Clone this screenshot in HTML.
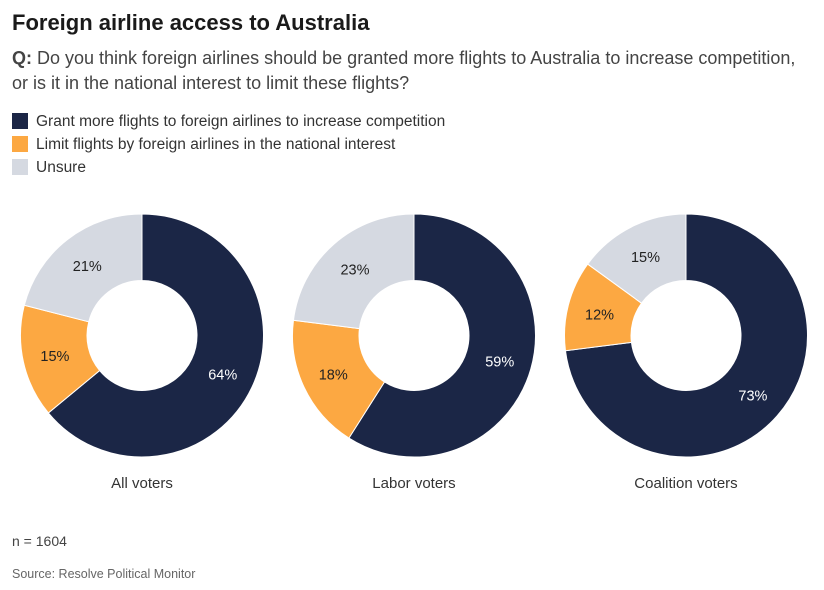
<!DOCTYPE html>
<html><head><meta charset="utf-8"><style>
body{margin:0;width:824px;height:590px;background:#fff;font-family:"Liberation Sans",sans-serif;color:#222;overflow:hidden;position:relative}
.t{position:absolute;left:12px;top:10px;font-size:22px;font-weight:bold;color:#1a1a1a}
.q{position:absolute;left:12px;top:46px;font-size:18px;line-height:25px;color:#444;white-space:nowrap}
.lg{position:absolute;left:12px;font-size:15.5px;color:#333}
.sw{display:inline-block;width:16px;height:16px;vertical-align:-3px;margin-right:8px}
.f{position:absolute;left:12px;color:#444}
</style></head><body>
<div class="t">Foreign airline access to Australia</div>
<div class="q"><b>Q:</b> Do you think foreign airlines should be granted more flights to Australia to increase competition,<br>or is it in the national interest to limit these flights?</div>
<div class="lg" style="top:113px"><span class="sw" style="background:#1b2646"></span>Grant more flights to foreign airlines to increase competition</div>
<div class="lg" style="top:136px"><span class="sw" style="background:#fca842"></span>Limit flights by foreign airlines in the national interest</div>
<div class="lg" style="top:159px"><span class="sw" style="background:#d5d9e1"></span>Unsure</div>
<svg id="c" width="824" height="590" style="position:absolute;left:0;top:0"></svg>
<div class="f" style="top:533px;font-size:14px">n = 1604</div>
<div class="f" style="top:567px;font-size:12.5px;color:#666">Source: Resolve Political Monitor</div>
<script>
const groups=["All voters","Labor voters","Coalition voters"];
const grant=[64,59,73];
const limit=[15,18,12];
const unsure=[21,23,15];
const colors=["#1b2646","#fca842","#d5d9e1"];
const textCol=["#fff","#222","#222"];
const keys=["grant","limit","unsure"];
const svg=document.getElementById('c');const NS="http://www.w3.org/2000/svg";
const cxs=[142,414,686],cy=335.5,R=121.5,r=55;
function pt(a,rad,cx){return [cx+rad*Math.sin(a),cy-rad*Math.cos(a)];}
groups.forEach((g,i)=>{
  const vals=[grant[i],limit[i],unsure[i]];const tot=vals.reduce((a,b)=>a+b,0);
  let a0=0;const cx=cxs[i];
  vals.forEach((v,k)=>{
    const a1=a0+v/tot*2*Math.PI;const lg=(a1-a0)>Math.PI?1:0;
    const p1=pt(a0,R,cx),p2=pt(a1,R,cx),p3=pt(a1,r,cx),p4=pt(a0,r,cx);
    const p=document.createElementNS(NS,'path');
    p.setAttribute('d',`M${p1}A${R},${R} 0 ${lg} 1 ${p2}L${p3}A${r},${r} 0 ${lg} 0 ${p4}Z`);
    p.setAttribute('fill',colors[k]);p.setAttribute('stroke','#fff');p.setAttribute('stroke-width','1');
    
    
    svg.appendChild(p);
    const m=(a0+a1)/2;const lp=pt(m,(R+r)/2+1,cx);
    const t=document.createElementNS(NS,'text');
    t.setAttribute('x',lp[0]);t.setAttribute('y',lp[1]+6);t.setAttribute('text-anchor','middle');
    t.setAttribute('font-size','14.5');t.setAttribute('fill',textCol[k]);t.textContent=v+'%';
    
    
    svg.appendChild(t);
    a0=a1;
  });
  const t=document.createElementNS(NS,'text');
  t.setAttribute('x',cx);t.setAttribute('y',488);t.setAttribute('text-anchor','middle');
  t.setAttribute('font-size','15');t.setAttribute('fill','#333');t.textContent=g;
  
  
  svg.appendChild(t);
});
</script>
</body></html>
